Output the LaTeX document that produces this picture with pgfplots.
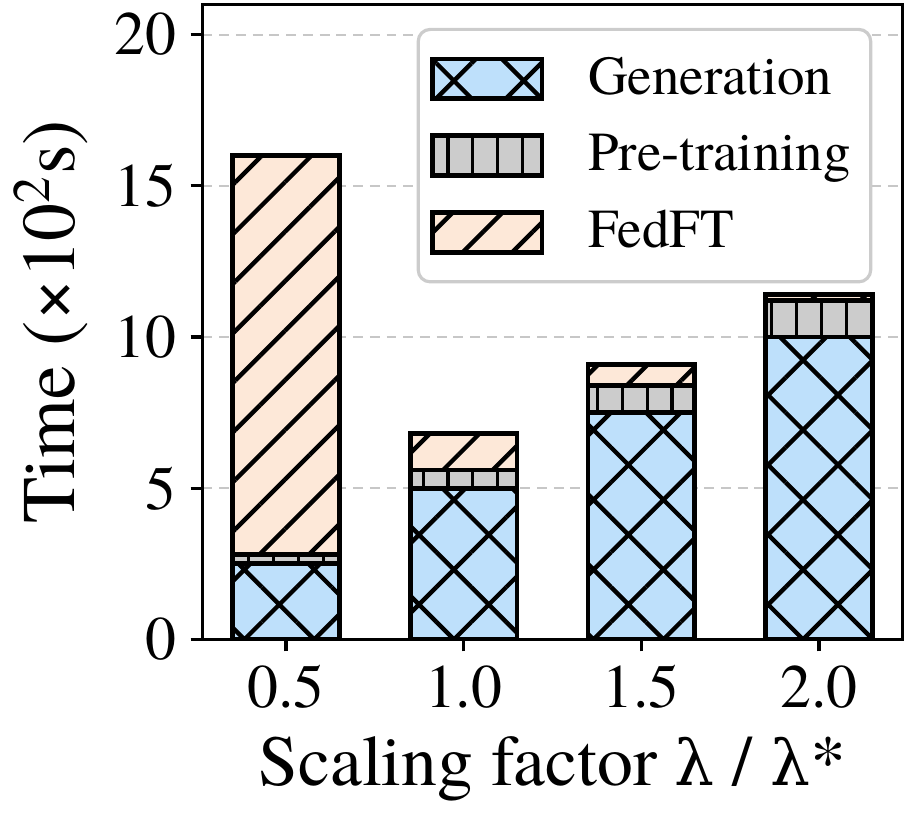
\documentclass[border=0pt]{standalone}
\usepackage{pgfplots}
\pgfplotsset{compat=1.18}
\usepackage{fontspec}
\setmainfont{TeX Gyre Termes}
\newfontfamily\grk{DejaVu Serif}[Scale=0.88]
\usetikzlibrary{patterns.meta}
\definecolor{genblue}{RGB}{190,224,251}
\definecolor{pregray}{RGB}{204,204,204}
\definecolor{fedpeach}{RGB}{253,232,216}
\newcommand{\lam}{{\grk λ}}
\begin{document}
\begin{tikzpicture}
\begin{axis}[
  scale only axis, width=175.75pt, height=159.5pt,
  ybar stacked, bar width=0.6,
  xmin=-0.47, xmax=3.47, ymin=0, ymax=21,
  xtick={0,1,2,3}, xticklabels={0.5,1.0,1.5,2.0},
  ytick={0,5,10,15,20},
  tick align=outside, major tick length=3pt,
  xtick pos=bottom, ytick pos=left,
  axis line style={line width=0.8pt},
  tick style={black, line width=0.8pt},
  ymajorgrids, grid style={black!22, line width=0.5pt, dash pattern=on 2.5pt off 1.7pt},
  /pgf/number format/assume math mode=true,
  ticklabel style={font=\fontsize{15.5}{18}\selectfont},
  xlabel style={font=\fontsize{18}{21}\selectfont},
  ylabel style={font=\fontsize{19}{22}\selectfont},
  xlabel={Scaling factor \lam{} / \lam*},
  ylabel={Time (×10\textsuperscript{2}s)},
  legend style={at={(0.957,0.963)}, anchor=north east, draw=black!20,
    rounded corners=3pt, line width=0.8pt, font=\fontsize{13.8}{16.5}\selectfont,
    row sep=4.5pt, inner xsep=3pt, inner ysep=5pt,
    /tikz/every odd column/.append style={column sep=9pt}},
  legend cell align=left,
  legend image code/.code={\draw[#1, sharp corners] (0pt,-5pt) rectangle (27.5pt,5pt);},
]
\addplot[fill=genblue, draw=black, line width=1.2pt,
  postaction={pattern={Hatch[angle=45,distance=12.4pt,line width=1.1pt]}, pattern color=black}]
  coordinates {(0,2.5) (1,5.0) (2,7.5) (3,10.0)};
\addplot[fill=pregray, draw=black, line width=1.2pt,
  postaction={pattern={Lines[angle=90,distance=6.25pt,line width=0.8pt]}, pattern color=black}]
  coordinates {(0,0.3) (1,0.6) (2,0.9) (3,1.2)};
\addplot[fill=fedpeach, draw=black, line width=1.2pt,
  postaction={pattern={Lines[angle=45,distance=8.8pt,line width=1.1pt]}, pattern color=black}]
  coordinates {(0,13.2) (1,1.2) (2,0.7) (3,0.2)};
\legend{Generation, Pre-training, FedFT}
\end{axis}
\end{tikzpicture}
\end{document}
